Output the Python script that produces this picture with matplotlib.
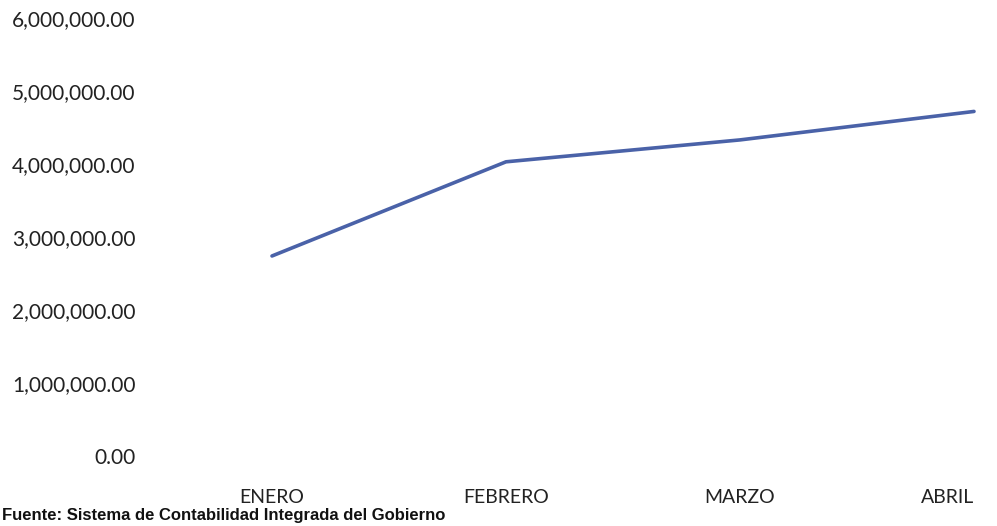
import matplotlib.pyplot as plt
import numpy as np

meses = ['ENERO', 'FEBRERO', 'MARZO', 'ABRIL']
valores = [2740000, 4030000, 4330000, 4720000]
y_ticks = [0, 1000000, 2000000, 3000000, 4000000, 5000000, 6000000]

plt.rcParams['font.family'] = ['Lato', 'DejaVu Sans']

fig = plt.figure(figsize=(9.97, 5.26), dpi=100)
# the scanned chart is cropped on the right, so the axes run past the figure edge
ax = fig.add_axes([155 / 997, 70 / 526, 936 / 997, 438 / 526])

x = np.arange(len(meses))
ax.plot(x, valores, color='#4a62a8', lw=2.6, solid_capstyle='round')

ax.set_xlim(-0.5, len(meses) - 0.5)
ax.set_ylim(0, 6000000)
ax.set_yticks(y_ticks)
ax.set_yticklabels(['{:,.2f}'.format(v) for v in y_ticks], fontsize=15, color='#222222')
ax.set_xticks(x)
ax.set_xticklabels(meses, fontsize=14, color='#222222')
ax.tick_params(axis='x', length=0, pad=24)
ax.tick_params(axis='y', length=0, pad=14)
for s in ax.spines.values():
    s.set_visible(False)
# keep the last month label inside the picture
ax.get_xticklabels()[-1].set_horizontalalignment('right')
ax.get_xticklabels()[-1].set_x(x[-1] + 0.1)

fig.text(0.002, 3 / 526, 'Fuente: Sistema de Contabilidad Integrada del Gobierno',
         family=['Liberation Sans', 'DejaVu Sans'], fontsize=12, fontweight='bold',
         color='#111111', va='bottom', ha='left')

fig.savefig('out.png', dpi=100)
